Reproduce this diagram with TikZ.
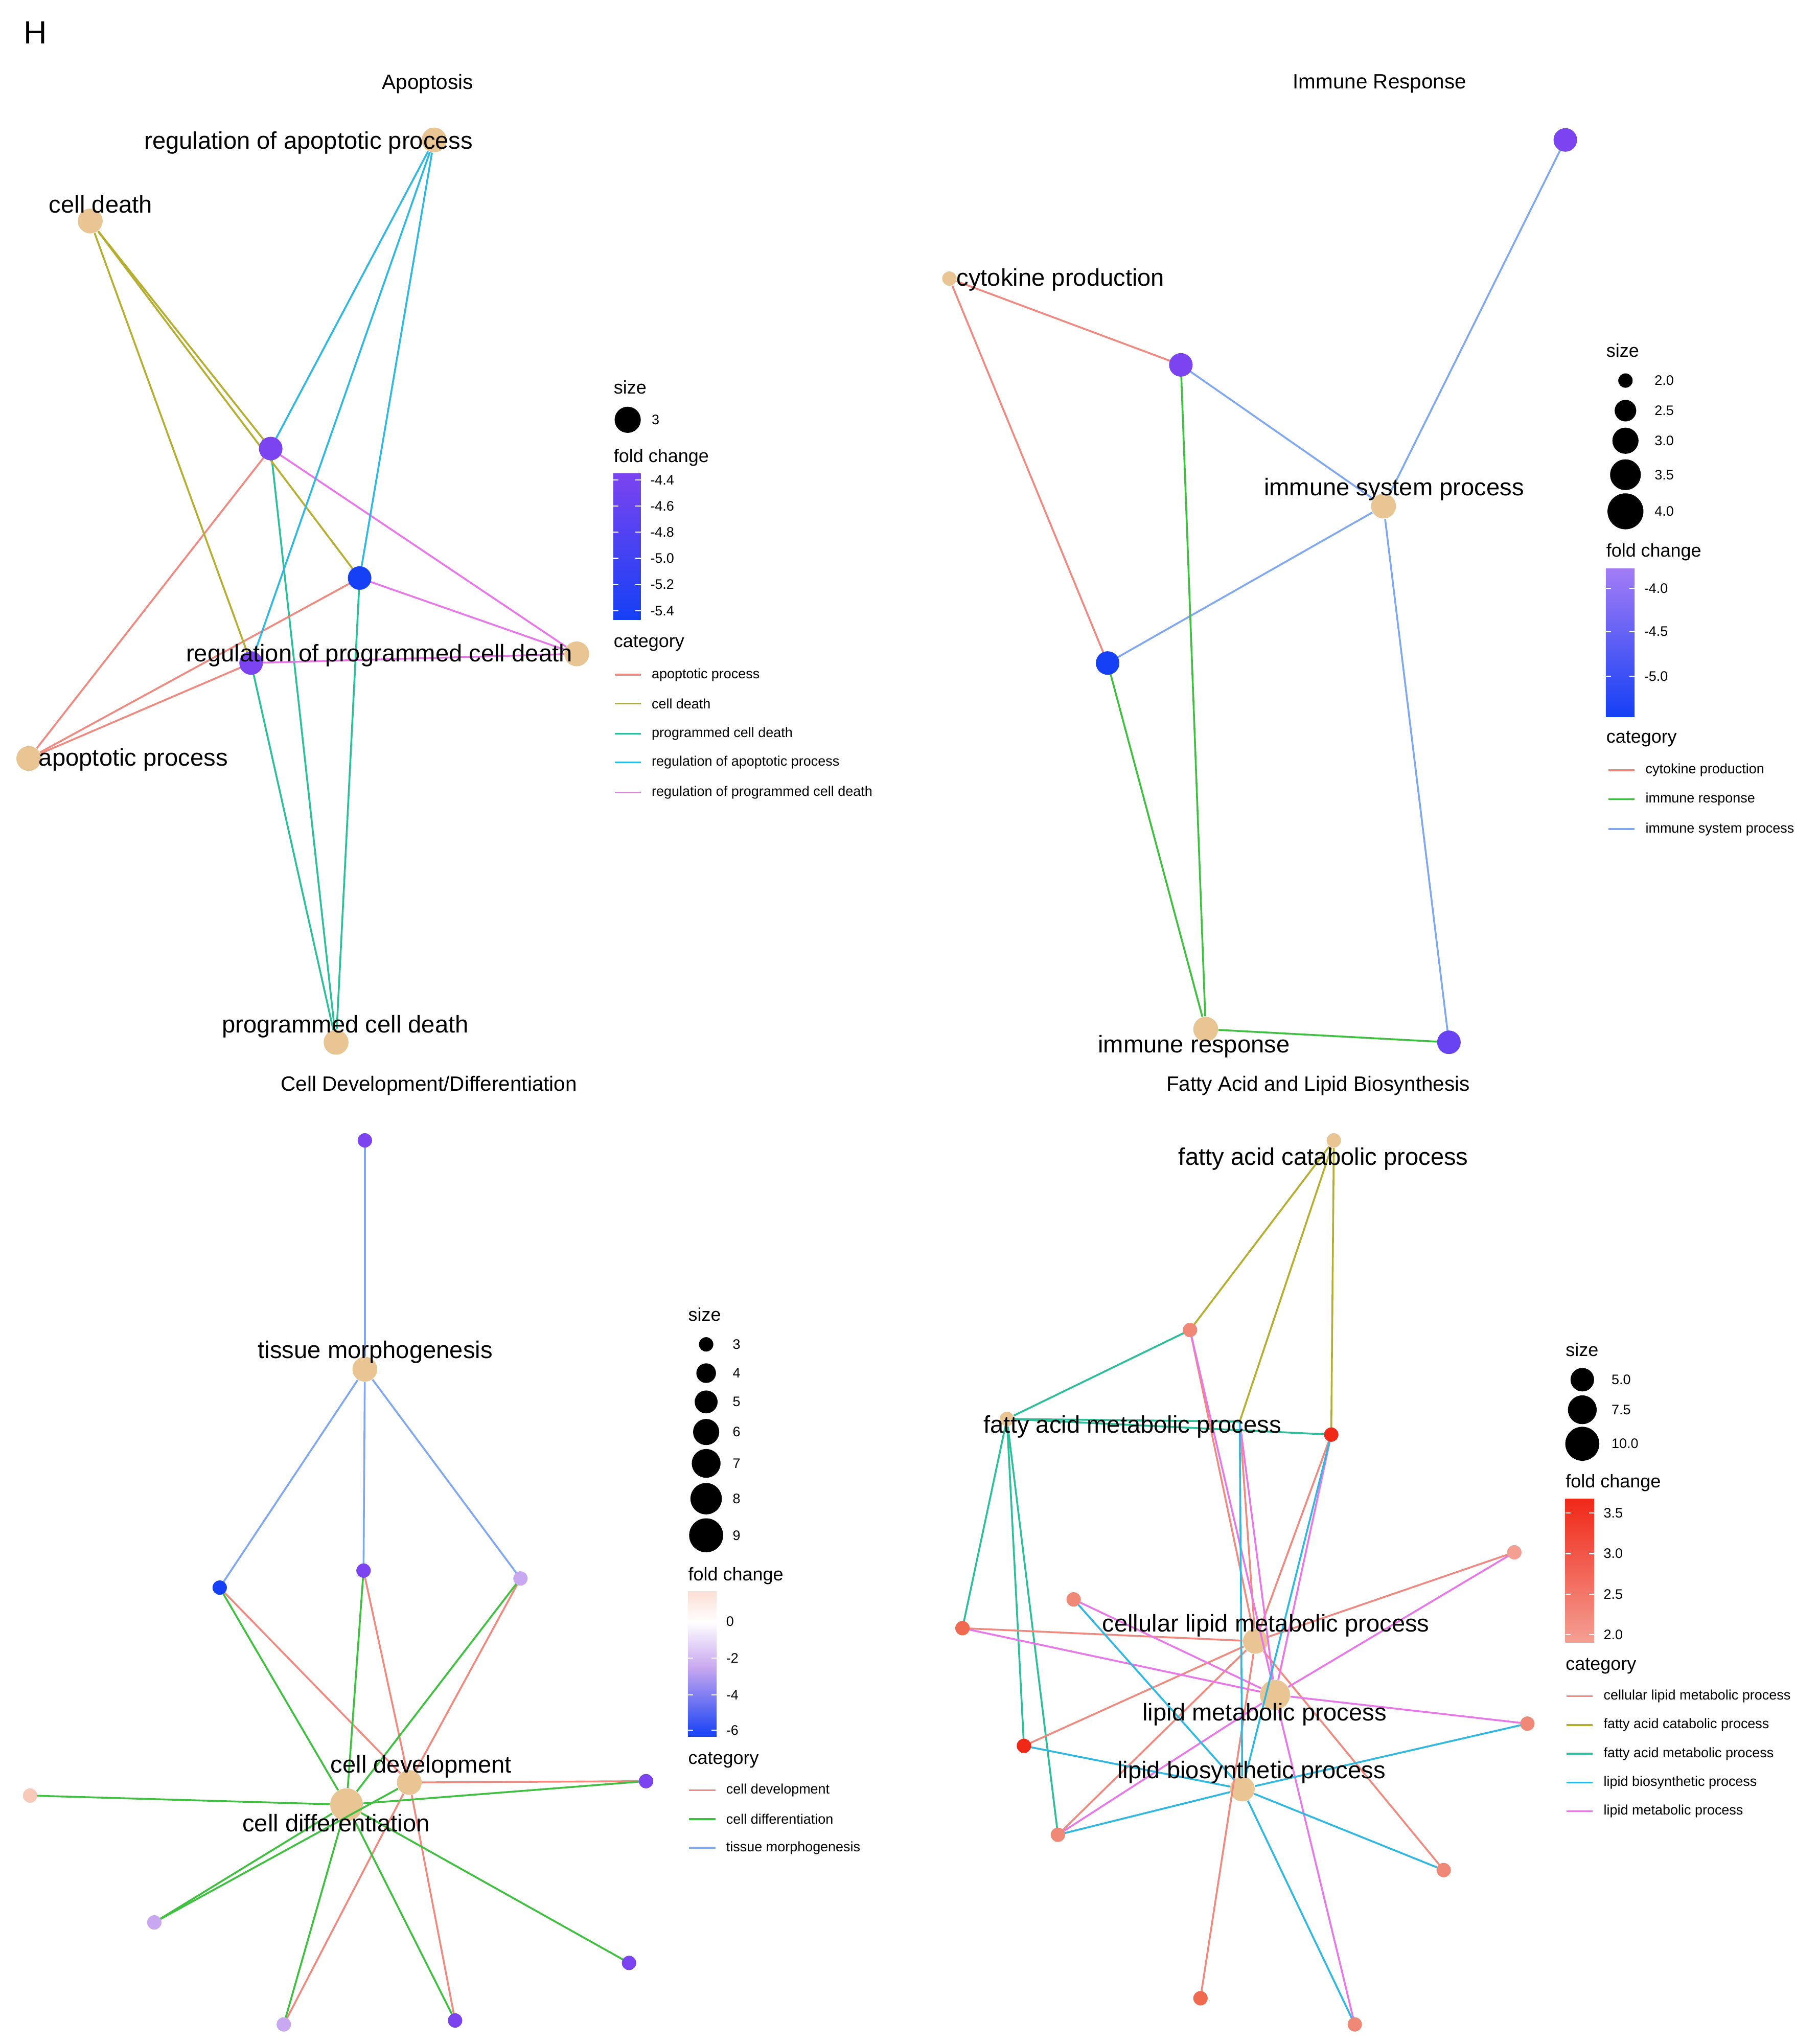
\documentclass[tikz,border=0pt]{standalone}
\usepackage{fontspec}
\setmainfont{Liberation Sans}
\begin{document}
\begin{tikzpicture}[x=0.02cm,y=-0.02cm]
\definecolor{beige}{HTML}{E8C593}
\definecolor{cpur}{HTML}{7B44F0}
\definecolor{cblue}{HTML}{1540F5}
\definecolor{clav}{HTML}{C8A8F0}
\definecolor{cpeach}{HTML}{F8C8B8}
\definecolor{csal}{HTML}{F08878}
\definecolor{ctom}{HTML}{F06A50}
\definecolor{cred}{HTML}{F02818}
\definecolor{eSal}{HTML}{F08A80}
\definecolor{eOli}{HTML}{B5AE30}
\definecolor{eTeal}{HTML}{2DBE9A}
\definecolor{eCyan}{HTML}{30B8E0}
\definecolor{ePink}{HTML}{E878E8}
\definecolor{eGreen}{HTML}{40C040}
\definecolor{eLB}{HTML}{80A8F0}
\tikzset{
 term/.style={circle,fill=beige,inner sep=0,minimum size=0.38cm},
 sterm/.style={circle,fill=beige,inner sep=0,minimum size=0.22cm},
 gene/.style={circle,fill=#1,inner sep=0,minimum size=0.36cm},
 sgene/.style={circle,fill=#1,inner sep=0,minimum size=0.22cm},
 lab/.style={font=\fontsize{10.5}{12}\selectfont,inner sep=0},
 ttl/.style={font=\fontsize{9}{11}\selectfont,inner sep=0},
 lh/.style={font=\fontsize{8}{10}\selectfont,inner sep=0,anchor=west},
 lt/.style={font=\fontsize{6}{7}\selectfont,inner sep=0,anchor=west},
 ed/.style={line width=0.8pt,#1},
}
\useasboundingbox (0,0) rectangle (1390,1563);
\node[font=\fontsize{14}{16}\selectfont,inner sep=0] (H) at (27,25) {H};
% titles
\node[ttl] (t1) at (327,64) {Apoptosis};
\node[ttl] (t2) at (1055,64) {Immune Response};
\node[ttl] (t3) at (328,830) {Cell Development/Differentiation};
\node[ttl] (t4) at (1008,830) {Fatty Acid and Lipid Biosynthesis};
% ===== Apoptosis
\node[term] (ra) at (332,107) {};
\node[term] (cd) at (69,169) {};
\node[term] (rp) at (441,500) {};
\node[term] (ap) at (22,580) {};
\node[term] (pc) at (257,797) {};
\coordinate (P1) at (207,343); \coordinate (P2) at (275,442); \coordinate (P3) at (192,507);
\foreach \g in {P1,P2,P3}{
 \draw[ed=eOli] (cd) -- (\g); \draw[ed=eCyan] (ra) -- (\g);
 \draw[ed=eSal] (ap) -- (\g); \draw[ed=eTeal] (pc) -- (\g); \draw[ed=ePink] (rp) -- (\g);}
\node[gene=cpur] (g1) at (P1) {}; \node[gene=cblue] (g2) at (P2) {}; \node[gene=cpur] (g3) at (P3) {};
\node[lab] (l1) at (236,109) {regulation of apoptotic process};
\node[lab] (l2) at (77,156) {cell death};
\node[lab] (l3) at (290,501) {regulation of programmed cell death};
\node[lab] (l4) at (102,581) {apoptotic process};
\node[lab] (l5) at (264,785) {programmed cell death};
% legend
\node[lh] (s1) at (469,296) {size};
\node[circle,fill=black,inner sep=0,minimum size=0.4cm] (s1d) at (480,321) {};
\node[lt] (s1t) at (498,321) {3};
\node[lh] (f1) at (469,350) {fold change};
\shade[top color=cpur,bottom color=cblue] (469,362) rectangle (490,474);
\foreach \v/\y in {-4.4/367,-4.6/387,-4.8/407,-5.0/427,-5.2/447,-5.4/467}{
 \draw[white,line width=0.5pt] (469,\y) -- (473,\y) (486,\y) -- (490,\y);
 \node[lt] at (497,\y) {\v};}
\node[lh] (c1) at (469,492) {category};
\foreach \c/\t/\y in {eSal/apoptotic process/516,eOli/cell death/538,eTeal/programmed cell death/561,eCyan/regulation of apoptotic process/583,ePink/regulation of programmed cell death/606}{
 \draw[ed=\c] (470,\y) -- (490,\y); \node[lt] at (498,\y) {\t};}
% ===== Immune
\node[sterm] (cp) at (726,213) {};
\node[term] (is) at (1058,387) {};
\node[term] (ir) at (922,787) {};
\coordinate (I0) at (1197,107); \coordinate (I1) at (903,279); \coordinate (I2) at (847,507); \coordinate (I3) at (1108,797);
\draw[ed=eSal] (cp) -- (I1); \draw[ed=eSal] (cp) -- (I2);
\foreach \g in {I0,I1,I2,I3}{\draw[ed=eLB] (is) -- (\g);}
\foreach \g in {I1,I2,I3}{\draw[ed=eGreen] (ir) -- (\g);}
\node[gene=cpur] (h0) at (I0) {}; \node[gene=cpur] (h1) at (I1) {};
\node[gene=cblue] (h2) at (I2) {}; \node[gene=cpur!80!cblue] (h3) at (I3) {};
\node[lab] (m1) at (811,214) {cytokine production};
\node[lab] (m2) at (1066,374) {immune system process};
\node[lab] (m3) at (913,800) {immune response};
\node[lh] (s2) at (1228,268) {size};
\foreach \v/\y/\d in {2.0/291/0.22,2.5/314/0.33,3.0/337/0.4,3.5/363/0.47,4.0/391/0.55}{
 \node[circle,fill=black,inner sep=0,minimum size=\d cm] at (1243,\y) {};
 \node[lt] at (1265,\y) {\v};}
\node[lh] (f2) at (1228,422) {fold change};
\shade[top color=cpur!70!white,bottom color=cblue] (1228,435) rectangle (1250,548);
\foreach \v/\y in {-4.0/450,-4.5/483,-5.0/517}{
 \draw[white,line width=0.5pt] (1228,\y) -- (1232,\y) (1246,\y) -- (1250,\y);
 \node[lt] at (1257,\y) {\v};}
\node[lh] (c2) at (1228,565) {category};
\foreach \c/\t/\y in {eSal/cytokine production/589,eGreen/immune response/611,eLB/immune system process/634}{
 \draw[ed=\c] (1230,\y) -- (1250,\y); \node[lt] at (1258,\y) {\t};}
% ===== Cell development
\node[term] (tm) at (279,1047) {};
\node[term] (cv) at (313,1363) {};
\node[circle,fill=beige,inner sep=0,minimum size=0.5cm] (cf) at (265,1380) {};
\coordinate (C0) at (279,872); \coordinate (C1) at (168,1214); \coordinate (C2) at (278,1201);
\coordinate (C3) at (398,1207); \coordinate (CL) at (23,1373); \coordinate (CR) at (494,1362);
\coordinate (C4) at (118,1470); \coordinate (C5) at (217,1548); \coordinate (C6) at (348,1545); \coordinate (C7) at (481,1501);
\foreach \g in {C0,C1,C2,C3}{\draw[ed=eLB] (tm) -- (\g);}
\foreach \g in {C1,C2,C3,CR,C5,C6}{\draw[ed=eSal] (cv) -- (\g);}
\foreach \g in {C1,C2,C3,CL,CR,C4,C5,C6,C7}{\draw[ed=eGreen] (cf) -- (\g);}
\draw[ed=eGreen] (cv) -- (C4);
\node[sgene=cpur] at (C0) {}; \node[sgene=cblue] at (C1) {}; \node[sgene=cpur] at (C2) {};
\node[sgene=clav] at (C3) {}; \node[sgene=cpeach] at (CL) {}; \node[sgene=cpur] at (CR) {};
\node[sgene=clav] at (C4) {}; \node[sgene=clav] at (C5) {}; \node[sgene=cpur] at (C6) {}; \node[sgene=cpur] at (C7) {};
\node[lab] (n1) at (287,1034) {tissue morphogenesis};
\node[lab] (n2) at (322,1351) {cell development};
\node[lab] (n3) at (257,1394) {cell differentiation};
\node[lh] (s3) at (526,1005) {size};
\foreach \v/\y/\d in {3/1028/0.22,4/1050/0.3,5/1072/0.35,6/1095/0.4,7/1119/0.44,8/1146/0.48,9/1174/0.52}{
 \node[circle,fill=black,inner sep=0,minimum size=\d cm] at (540,\y) {};
 \node[lt] at (560,\y) {\v};}
\node[lh] (f3) at (526,1205) {fold change};
\shade[top color=cpeach!60!white,bottom color=white] (526,1217) rectangle (548,1240);
\shade[top color=white,bottom color=clav] (526,1240) rectangle (548,1275);
\shade[top color=clav,bottom color=cblue] (526,1275) rectangle (548,1328);
\foreach \v/\y in {0/1240,-2/1268,-4/1296,-6/1323}{
 \draw[white,line width=0.5pt] (526,\y) -- (530,\y) (544,\y) -- (548,\y);
 \node[lt] at (555,\y) {\v};}
\node[lh] (c3) at (526,1346) {category};
\foreach \c/\t/\y in {eSal/cell development/1369,eGreen/cell differentiation/1391,eLB/tissue morphogenesis/1413}{
 \draw[ed=\c] (527,\y) -- (547,\y); \node[lt] at (555,\y) {\t};}
% ===== Fatty acid
\node[sterm] (fc) at (1020,872) {};
\node[sterm] (fm) at (770,1085) {};
\node[term] (cl) at (960,1255) {};
\node[circle,fill=beige,inner sep=0,minimum size=0.46cm] (lm) at (975,1296) {};
\node[term] (lb) at (950,1368) {};
\coordinate (F0) at (948,1087); \coordinate (F1) at (910,1017); \coordinate (FR) at (1018,1097);
\coordinate (F3) at (1158,1187); \coordinate (F4) at (821,1223); \coordinate (F5) at (736,1245);
\coordinate (F6) at (1168,1318); \coordinate (F7) at (783,1335); \coordinate (F8) at (809,1403);
\coordinate (F9) at (1104,1430); \coordinate (F10) at (918,1528); \coordinate (F11) at (1036,1548);
\foreach \g in {F1,F0,FR}{\draw[ed=eOli] (fc) -- (\g);}
\foreach \g in {F1,FR,F5,F7,F8,F0}{\draw[ed=eTeal] (fm) -- (\g);}
\foreach \g in {F0,FR,F3,F5,F7,F8,F9,F10,F1}{\draw[ed=eSal] (cl) -- (\g);}
\foreach \g in {F1,F0,F3,F4,F5,F6,F8,F11,FR}{\draw[ed=ePink] (lm) -- (\g);}
\foreach \g in {FR,F0,F4,F6,F7,F9,F11,F8}{\draw[ed=eCyan] (lb) -- (\g);}
\node[sgene=csal] at (F1) {}; \node[sgene=cred] at (FR) {}; \node[sgene=csal!80!white] at (F3) {};
\node[sgene=csal] at (F4) {}; \node[sgene=ctom] at (F5) {}; \node[sgene=csal] at (F6) {};
\node[sgene=cred] at (F7) {}; \node[sgene=csal] at (F8) {}; \node[sgene=csal] at (F9) {};
\node[sgene=ctom] at (F10) {}; \node[sgene=csal] at (F11) {};
\node[lab] (o1) at (1012,886) {fatty acid catabolic process};
\node[lab] (o2) at (866,1091) {fatty acid metabolic process};
\node[lab] (o3) at (968,1243) {cellular lipid metabolic process};
\node[lab] (o4) at (967,1311) {lipid metabolic process};
\node[lab] (o5) at (957,1355) {lipid biosynthetic process};
\node[lh] (s4) at (1197,1032) {size};
\foreach \v/\y/\d in {5.0/1055/0.36,7.5/1078/0.44,10.0/1104/0.52}{
 \node[circle,fill=black,inner sep=0,minimum size=\d cm] at (1210,\y) {};
 \node[lt] at (1232,\y) {\v};}
\node[lh] (f4) at (1197,1134) {fold change};
\shade[top color=cred,bottom color=csal!80!white] (1197,1146) rectangle (1219,1256);
\foreach \v/\y in {3.5/1157,3.0/1188,2.5/1219,2.0/1250}{
 \draw[white,line width=0.5pt] (1197,\y) -- (1201,\y) (1215,\y) -- (1219,\y);
 \node[lt] at (1226,\y) {\v};}
\node[lh] (c4) at (1197,1274) {category};
\foreach \c/\t/\y in {eSal/cellular lipid metabolic process/1297,eOli/fatty acid catabolic process/1319,eTeal/fatty acid metabolic process/1341,eCyan/lipid biosynthetic process/1363,ePink/lipid metabolic process/1385}{
 \draw[ed=\c] (1198,\y) -- (1218,\y); \node[lt] at (1226,\y) {\t};}
\end{tikzpicture}
\end{document}
